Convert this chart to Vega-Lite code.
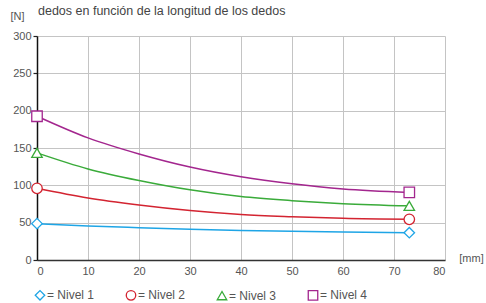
{
  "$schema": "https://vega.github.io/schema/vega-lite/v6.json",
  "width": 408,
  "height": 224,
  "autosize": "none",
  "padding": {"left": 37, "top": 36, "right": 41, "bottom": 43},
  "background": "white",
  "title": {
    "text": "dedos en función de la longitud de los dedos",
    "anchor": "start",
    "frame": "group",
    "font": "Liberation Sans",
    "fontSize": 12.5,
    "fontWeight": "normal",
    "color": "#444",
    "dx": 1,
    "dy": 17,
    "offset": 10
  },
  "data": {
    "values": [
      {"serie": "Nivel 1", "x": 0, "y": 48.7},
      {"serie": "Nivel 1", "x": 10, "y": 45.6},
      {"serie": "Nivel 1", "x": 20, "y": 43.3},
      {"serie": "Nivel 1", "x": 30, "y": 41.2},
      {"serie": "Nivel 1", "x": 40, "y": 39.5},
      {"serie": "Nivel 1", "x": 50, "y": 38.5},
      {"serie": "Nivel 1", "x": 60, "y": 37.5},
      {"serie": "Nivel 1", "x": 73, "y": 36.6},
      {"serie": "Nivel 2", "x": 0, "y": 96},
      {"serie": "Nivel 2", "x": 10, "y": 83},
      {"serie": "Nivel 2", "x": 20, "y": 73.7},
      {"serie": "Nivel 2", "x": 30, "y": 66.3},
      {"serie": "Nivel 2", "x": 40, "y": 61},
      {"serie": "Nivel 2", "x": 50, "y": 58},
      {"serie": "Nivel 2", "x": 60, "y": 55.8},
      {"serie": "Nivel 2", "x": 73, "y": 54.5},
      {"serie": "Nivel 3", "x": 0, "y": 143.5},
      {"serie": "Nivel 3", "x": 10, "y": 122},
      {"serie": "Nivel 3", "x": 20, "y": 106.5},
      {"serie": "Nivel 3", "x": 30, "y": 94},
      {"serie": "Nivel 3", "x": 40, "y": 85},
      {"serie": "Nivel 3", "x": 50, "y": 79.5},
      {"serie": "Nivel 3", "x": 60, "y": 75.5},
      {"serie": "Nivel 3", "x": 73, "y": 72.5},
      {"serie": "Nivel 4", "x": 0, "y": 192.5},
      {"serie": "Nivel 4", "x": 10, "y": 163.5},
      {"serie": "Nivel 4", "x": 20, "y": 142},
      {"serie": "Nivel 4", "x": 30, "y": 124.5},
      {"serie": "Nivel 4", "x": 40, "y": 111.5},
      {"serie": "Nivel 4", "x": 50, "y": 102},
      {"serie": "Nivel 4", "x": 60, "y": 95},
      {"serie": "Nivel 4", "x": 73, "y": 90.5}
    ]
  },
  "encoding": {
    "x": {
      "field": "x",
      "type": "quantitative",
      "scale": {"domain": [0, 80], "nice": false, "zero": false},
      "axis": {
        "values": [0, 10, 20, 30, 40, 50, 60, 70, 80],
        "title": "[mm]",
        "titleAnchor": null,
        "titleX": 434,
        "titleY": -2,
        "titleAlign": "center",
        "titleBaseline": "middle",
        "titleFont": "Liberation Sans",
        "titleFontSize": 11,
        "titleFontWeight": "normal",
        "titleColor": "#555",
        "ticks": false,
        "labelPadding": 5,
        "labelFont": "Liberation Sans",
        "labelFontSize": 11,
        "labelColor": "#555",
        "domainColor": "#333",
        "domainWidth": 1.5,
        "gridColor": "#c4c4c4",
        "gridWidth": 1
      }
    },
    "y": {
      "field": "y",
      "type": "quantitative",
      "scale": {"domain": [0, 300], "nice": false},
      "axis": {
        "values": [0, 50, 100, 150, 200, 250, 300],
        "title": "[N]",
        "titleAngle": 0,
        "titleX": -20,
        "titleY": -20,
        "titleAlign": "center",
        "titleBaseline": "middle",
        "titleFont": "Liberation Sans",
        "titleFontSize": 11,
        "titleFontWeight": "normal",
        "titleColor": "#555",
        "tickSize": 4,
        "tickColor": "#222",
        "tickWidth": 1.2,
        "labelPadding": 2,
        "labelFont": "Liberation Sans",
        "labelFontSize": 11,
        "labelColor": "#555",
        "domainColor": "#111",
        "domainWidth": 1.5,
        "gridColor": "#c4c4c4",
        "gridWidth": 1
      }
    },
    "color": {
      "field": "serie",
      "type": "nominal",
      "scale": {
        "domain": ["Nivel 1", "Nivel 2", "Nivel 3", "Nivel 4"],
        "range": ["#1ea5e6", "#d32431", "#3aab3a", "#a3268e"]
      },
      "legend": {
        "title": null,
        "orient": "none",
        "legendX": -3,
        "legendY": 253,
        "direction": "horizontal",
        "columns": 4,
        "columnPadding": 28,
        "symbolFillColor": "white",
        "symbolStrokeWidth": 1.3,
        "symbolSize": 90,
        "labelExpr": "'= ' + datum.label",
        "labelFont": "Liberation Sans",
        "labelFontSize": 12,
        "labelColor": "#555",
        "labelOffset": 1
      }
    }
  },
  "layer": [
    {
      "mark": {"type": "line", "interpolate": "monotone", "strokeWidth": 1.5},
      "encoding": {"detail": {"field": "serie"}}
    },
    {
      "transform": [{"filter": "datum.x == 0 || datum.x == 73"}],
      "mark": {"type": "point", "filled": false, "fill": "white", "fillOpacity": 1, "strokeWidth": 1.3, "size": 110, "opacity": 1},
      "encoding": {
        "shape": {
          "field": "serie",
          "type": "nominal",
          "scale": {
            "domain": ["Nivel 1", "Nivel 2", "Nivel 3", "Nivel 4"],
            "range": ["diamond", "circle", "triangle-up", "square"]
          },
          "legend": {
            "title": null,
            "orient": "none",
            "legendX": -3,
            "legendY": 253,
            "direction": "horizontal",
            "columns": 4,
            "columnPadding": 28,
            "symbolFillColor": "white",
            "symbolStrokeWidth": 1.3,
            "symbolSize": 90,
            "labelExpr": "'= ' + datum.label",
            "labelFont": "Liberation Sans",
            "labelFontSize": 12,
            "labelColor": "#555",
            "labelOffset": 1
          }
        }
      }
    }
  ],
  "config": {
    "view": {"stroke": null}
  }
}
